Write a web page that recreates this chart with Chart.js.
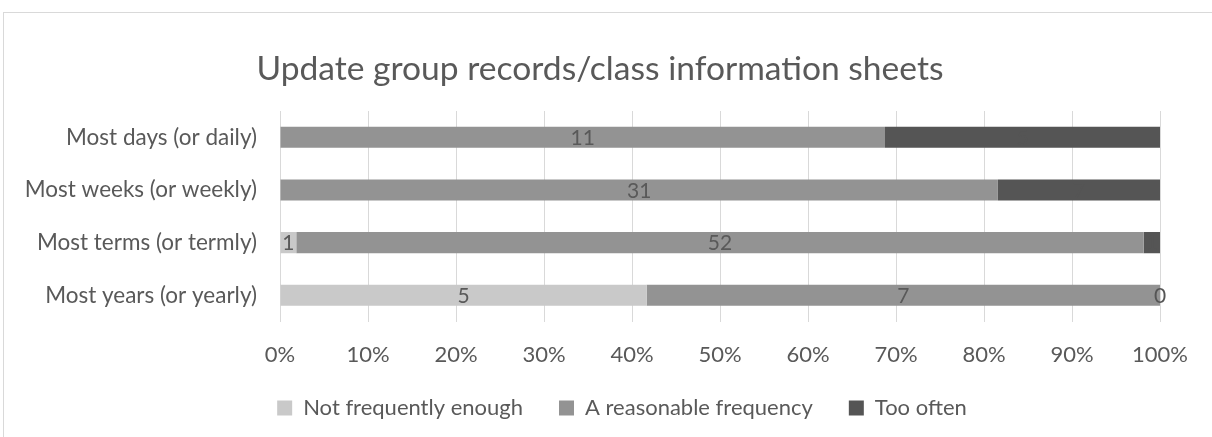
<!DOCTYPE html>
<html>
<head>
<meta charset="utf-8">
<script src="https://cdn.jsdelivr.net/npm/chart.js@4/dist/chart.umd.min.js"></script>
<style>
  html, body { margin: 0; padding: 0; background: #fff; overflow: hidden; }
  #frame { position: absolute; left: 3px; top: 12px; width: 1230px; height: 440px; border: 1px solid #d9d9d9; }
  #wrap { position: absolute; left: 0; top: 0; width: 1212px; height: 437px; }
</style>
</head>
<body>
<div id="frame"></div>
<div id="wrap"><canvas id="myChart" width="1212" height="437"></canvas></div>
<script>
const categories = ["Most days (or daily)", "Most weeks (or weekly)", "Most terms (or termly)", "Most years (or yearly)"];
const notEnough = [null, null, 1, 5];
const reasonable = [11, 31, 52, 7];
const tooOften = [5, 7, 1, 0];
const seriesNames = ["Not frequently enough", "A reasonable frequency", "Too often"];
const seriesColors = ["#c9c9c9", "#939393", "#555555"];
const tickLabels = [0, 10, 20, 30, 40, 50, 60, 70, 80, 90, 100];
const chartTitle = "Update group records/class information sheets";

const textColor = "#595959";
const fontFamily = "Lato, 'Open Sans', sans-serif";
// dark grey labels vanish on the dark bars in the original
const labelColors = [textColor, textColor, "#555555"];

let counts = [notEnough, reasonable, tooOften];
let totals = categories.map((c, i) => counts.reduce((s, arr) => s + (arr[i] || 0), 0));

let datasets = counts.map((arr, k) => {
  return {
    label: seriesNames[k],
    backgroundColor: seriesColors[k],
    data: arr.map((v, i) => (v === null ? null : (v / totals[i]) * 100)),
    counts: arr,
    barPercentage: 1,
    categoryPercentage: 0.4,
  };
});

// count in the middle of each segment, Excel style
const countLabels = {
  id: "countLabels",
  afterDatasetsDraw(chart) {
    const ctx = chart.ctx;
    ctx.save();
    ctx.font = "21px " + fontFamily;
    ctx.textAlign = "center";
    ctx.textBaseline = "middle";
    chart.data.datasets.forEach((ds, k) => {
      const meta = chart.getDatasetMeta(k);
      ctx.fillStyle = labelColors[k];
      meta.data.forEach((bar, i) => {
        const v = ds.counts[i];
        if (v === null || v === undefined) return;
        ctx.fillText(String(v), (bar.x + bar.base) / 2, bar.y + 1);
      });
    });
    ctx.restore();
  },
};

// title centred on the whole frame (not the plot) like Excel does
const frameTitle = {
  id: "frameTitle",
  afterDraw(chart) {
    const ctx = chart.ctx;
    ctx.save();
    ctx.font = "33.6px " + fontFamily;
    ctx.fillStyle = textColor;
    ctx.textAlign = "center";
    ctx.textBaseline = "alphabetic";
    ctx.fillText(chartTitle, 600, 80);
    ctx.restore();
  },
};

// nudge the legend so it sits under the frame centre
const legendShift = {
  id: "legendShift",
  afterLayout(chart) {
    const lg = chart.legend;
    lg.left += 42;
    lg.right += 42;
    lg.top -= 27;
    lg.bottom -= 27;
  },
};

let ctx = document.getElementById("myChart").getContext("2d");

let myChart = new Chart(ctx, {
  type: "bar",
  data: { labels: categories, datasets },
  plugins: [countLabels, frameTitle, legendShift],
  options: {
    indexAxis: "y",
    responsive: false,
    animation: false,
    layout: { padding: { left: 0, right: 52, top: 111, bottom: -19 } },
    scales: {
      x: {
        stacked: true,
        min: 0,
        max: 100,
        afterBuildTicks(axis) {
          axis.ticks = tickLabels.map((v) => ({ value: v }));
        },
        grid: { color: "#d9d9d9", drawTicks: false },
        border: { display: false },
        ticks: {
          color: textColor,
          font: { size: 22, family: fontFamily },
          padding: 20,
          callback: (v) => v + "%",
        },
      },
      y: {
        stacked: true,
        grid: { display: false, drawTicks: false },
        border: { display: false },
        afterFit(axis) {
          axis.width = 280;
        },
        ticks: {
          color: textColor,
          font: { size: 22.5, family: fontFamily },
          padding: 23,
        },
      },
    },
    plugins: {
      title: { display: false },
      legend: {
        position: "bottom",
        labels: {
          color: textColor,
          font: { size: 22, family: fontFamily },
          boxWidth: 15,
          boxHeight: 15,
          padding: 36,
        },
      },
      tooltip: { enabled: false },
    },
  },
});
</script>
</body>
</html>
